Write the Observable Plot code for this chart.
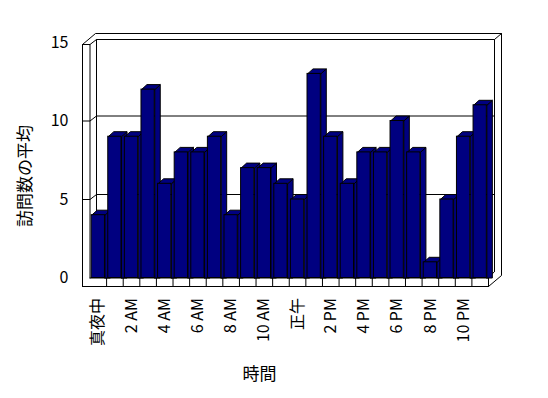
<!DOCTYPE html>
<html><head><meta charset="utf-8">
<script src="https://cdn.jsdelivr.net/npm/d3@7"></script>
<script src="https://cdn.jsdelivr.net/npm/@observablehq/plot@0.6"></script>
<style>
html,body{margin:0;padding:0;background:#fff;}
#chart svg{display:block;}
</style></head><body><div id="chart"></div>
<script>
// ---- data ----
const hourLabels = ["真夜中","1 AM","2 AM","3 AM","4 AM","5 AM","6 AM","7 AM","8 AM","9 AM","10 AM","11 AM",
                    "正午","1 PM","2 PM","3 PM","4 PM","5 PM","6 PM","7 PM","8 PM","9 PM","10 PM","11 PM"];
const visits = [4, 9, 9, 12, 6, 8, 8, 9, 4, 7, 7, 6, 5, 13, 9, 6, 8, 8, 10, 8, 1, 5, 9, 11];
const yTicks = [0, 5, 10, 15];
const xTicks = [0, 2, 4, 6, 8, 10, 12, 14, 16, 18, 20, 22];
const gridValues = [5, 10];
const xTitle = "時間";
const yTitle = "訪問数の平均";

// ---- layout / style constants ----
const W = 548, H = 398;
const mL = 89.5, mR = 60, mT = 42, mB = 120.5;
const N = visits.length;
const LO = -0.5, HI = N - 0.5, TOP = 15;
const KX = (W - mL - mR) / N;          // px per x unit
const KY = (H - mT - mB) / TOP;        // px per y unit
const P = (x, y, dxp, dyp) => ({x: x + dxp / KX, y: y - dyp / KY});
const HALF = 0.4;                       // half width of bar front
const OX = 5.5 / KX, OY = 5 / KY;       // 3D depth of bars
const NAVY = "#000080";
const FONT = "'Noto Sans CJK JP', 'Noto Sans', sans-serif";

// ---- frame (walls & floor) ----
const frameParts = [
  [P(LO,0,-7.5,8.5), P(LO,TOP,-7.5,2), P(LO,TOP,5.5,-9), P(HI,TOP,13,-9), P(HI,0,13,-2.5), P(HI,0,0,8.5), P(LO,0,-7.5,8.5)],
  [P(LO,TOP,-7.5,2), P(LO,TOP,0,2), P(LO,0,0,0)],
  [P(LO,TOP,0,2), P(LO,TOP,6.5,-3)],
  [P(LO,0,6.5,-5.5), P(LO,TOP,6.5,-3), P(HI,TOP,6,-3), P(HI,0,6,-6.5)],
  [P(HI,TOP,6,-3), P(HI,TOP,13,-9)],
  [P(LO,0,0,0), P(HI,0,0,0), P(HI,0,6,-6.5)],
  [P(HI,0,0,0), P(HI,0,0,8.5)]
];
gridValues.forEach(v => frameParts.push([P(LO,v,-7.5,0), P(LO,v,0,0), P(LO,v,6.5,-5), P(HI,v,6,-5)]));
const framePts = frameParts.flatMap((pts, id) => pts.map(p => ({...p, id})));
const cellBounds = d3.range(1, N).map(k => LO + k);

// ---- bars ----
const bars = visits.map((v, i) => ({i, label: hourLabels[i], v, x1: i - HALF, x2: i + HALF}));
const facePts = [];
bars.forEach(b => {
  const side = [[b.x2, 0], [b.x2, b.v], [b.x2 + OX, b.v + OY], [b.x2 + OX, 0], [b.x2, 0]];
  const topF = [[b.x1, b.v], [b.x2, b.v], [b.x2 + OX, b.v + OY], [b.x1 + OX, b.v + OY], [b.x1, b.v]];
  side.forEach(([x, y]) => facePts.push({x, y, id: "s" + b.i}));
  topF.forEach(([x, y]) => facePts.push({x, y, id: "t" + b.i}));
});

const chart = Plot.plot({
  width: W, height: H,
  marginLeft: mL, marginRight: mR, marginTop: mT, marginBottom: mB,
  style: {fontSize: "16px", fontFamily: FONT, background: "#fff", color: "#000"},
  x: {type: "linear", domain: [LO, HI], ticks: xTicks, tickFormat: i => hourLabels[i],
      tickRotate: -90, tickSize: 0, tickPadding: 20, label: null},
  y: {type: "linear", domain: [0, TOP], ticks: yTicks, tickSize: 0, tickPadding: 21.5, label: null},
  marks: [
    Plot.line(framePts, {x: "x", y: "y", z: "id", stroke: "black", strokeWidth: 1, strokeLinejoin: "miter"}),
    Plot.ruleX(cellBounds, {x: d => d, y1: 0, y2: -8.5 / KY, stroke: "black", strokeWidth: 1}),
    Plot.line(facePts, {x: "x", y: "y", z: "id", fill: NAVY, stroke: "black", strokeWidth: 1, strokeLinejoin: "miter"}),
    Plot.rect(bars, {x1: "x1", x2: "x2", y1: () => 0, y2: "v", fill: NAVY, stroke: "black", strokeWidth: 1}),
    Plot.text([xTitle], {frameAnchor: "bottom-left", textAnchor: "middle", lineAnchor: "middle",
                         dx: 259 - mL, dy: 374 - (H - mB), fontSize: 17, text: d => d}),
    Plot.text([yTitle], {frameAnchor: "left", textAnchor: "middle", lineAnchor: "middle", rotate: -90,
                         dx: 25.5 - mL, dy: 175.5 - (mT + H - mB) / 2, fontSize: 17, text: d => d})
  ]
});
document.getElementById("chart").appendChild(chart);
</script>
</body></html>
